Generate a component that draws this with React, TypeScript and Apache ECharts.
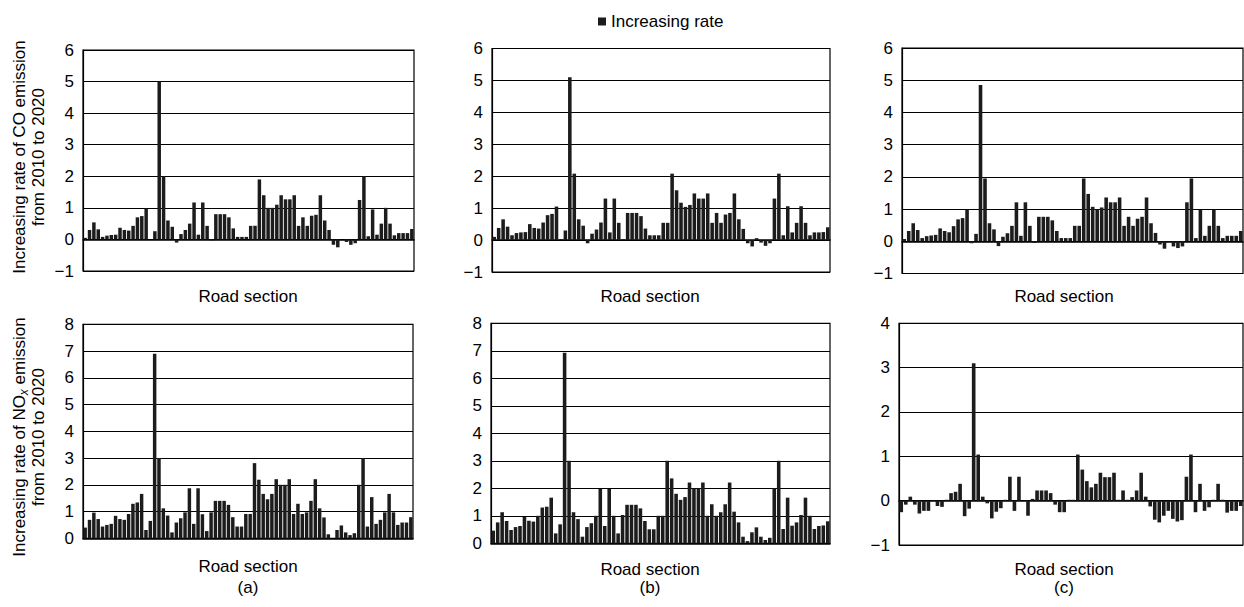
import React, { useEffect, useRef } from "react";
import * as echarts from "echarts";

const sections: string[] = Array.from({ length: 76 }, (_, i) => `S${i + 1}`);

const seriesName = "Increasing rate";

const coA: number[] = [
  0.05, 0.3, 0.54, 0.32, 0.08, 0.12, 0.14, 0.15, 0.37, 0.3, 0.28, 0.43, 0.7, 0.74, 0.98, 0, 0.26,
  5.0,
  2.0, 0.6, 0.4, -0.1, 0.17, 0.3, 0.5, 1.17, 0.15, 1.17, 0.43, -0.03, 0.8, 0.8, 0.8, 0.7, 0.35, 0.08, 0.08, 0.08, 0.43, 0.43,
  1.9,
  1.4, 1.0, 1.0, 1.1, 1.4, 1.27, 1.27, 1.4, 0.43, 0.7, 0.43, 0.75, 0.78, 1.4, 0.6, 0.3, -0.17, -0.25, 0, -0.08, -0.17, -0.12, 1.25,
  2.0,
  0.1, 0.95, 0.15, 0.5, 1.0, 0.5, 0.13, 0.2, 0.2, 0.2, 0.33,
];

const coB: number[] = [
  0.1, 0.38, 0.65, 0.42, 0.15, 0.22, 0.24, 0.25, 0.5, 0.38, 0.36, 0.55, 0.78, 0.82, 1.05, 0.03, 0.3,
  5.1,
  2.08, 0.65, 0.45, -0.1, 0.2, 0.33, 0.55, 1.3, 0.24, 1.3, 0.54, 0.03, 0.85, 0.85, 0.85, 0.75, 0.36, 0.15, 0.15, 0.15, 0.54, 0.54,
  2.08,
  1.56, 1.17, 1.04, 1.1, 1.46, 1.3, 1.3, 1.46, 0.54, 0.85, 0.54, 0.8, 0.85, 1.46, 0.65, 0.35, -0.1, -0.2, 0.06, -0.08, -0.18, -0.1, 1.3,
  2.08,
  0.15, 1.06, 0.24, 0.54, 1.06, 0.54, 0.15, 0.24, 0.24, 0.25, 0.4,
];

const coC: number[] = [
  0.07, 0.32, 0.56, 0.35, 0.1, 0.16, 0.18, 0.2, 0.4, 0.32, 0.28, 0.47, 0.68, 0.72, 0.98, -0.06, 0.23,
  4.85,
  1.95, 0.56, 0.37, -0.15, 0.14, 0.25, 0.48, 1.21, 0.17, 1.21, 0.48, -0.05, 0.76, 0.76, 0.76, 0.65, 0.32, 0.1, 0.1, 0.1, 0.48, 0.48,
  1.95,
  1.47, 1.07, 0.98, 1.05, 1.36, 1.21, 1.21, 1.36, 0.48, 0.76, 0.48, 0.7, 0.76, 1.36, 0.56, 0.26, -0.1, -0.23, -0.02, -0.16, -0.21, -0.16, 1.21,
  1.95,
  0.1, 0.98, 0.17, 0.48, 0.98, 0.48, 0.1, 0.17, 0.17, 0.17, 0.32,
];

const noxA: number[] = [
  0.4, 0.69, 0.96, 0.72, 0.44, 0.5, 0.54, 0.84, 0.72, 0.69, 0.91, 1.29, 1.34, 1.66, 0.31, 0.65,
  6.9,
  3.0, 1.12, 0.85, 0.22, 0.59, 0.75, 0.97, 1.87, 0.54, 1.87, 0.9, 0.27, 0.97, 1.4, 1.4, 1.4, 1.25, 0.79, 0.44, 0.44, 0.91, 0.91,
  2.81,
  2.19, 1.66, 1.46, 1.66, 2.21, 2.0, 2.0, 2.21, 0.91, 1.29, 0.91, 0.97, 1.4, 2.21, 1.12, 0.78, 0.15, 0.0, 0.31, 0.48, 0.22, 0.12, 0.19, 2.0,
  3.0,
  0.44, 1.54, 0.54, 0.69, 0.97, 1.66, 0.97, 0.5, 0.59, 0.59, 0.79,
];

const noxB: number[] = [
  0.46, 0.76, 1.13, 0.81, 0.48, 0.59, 0.63, 0.96, 0.82, 0.79, 1.0, 1.3, 1.33, 1.66, 0.36, 0.69,
  6.93,
  3.0, 1.13, 0.88, 0.24, 0.59, 0.73, 1.0, 1.98, 0.63, 1.98, 1.0, 0.36, 1.03, 1.4, 1.4, 1.4, 1.27, 0.81, 0.51, 0.51, 1.0, 1.0,
  3.0,
  2.36, 1.8, 1.58, 1.68, 2.21, 2.0, 2.0, 2.21, 1.0, 1.42, 1.0, 1.13, 1.42, 2.21, 1.15, 0.76, 0.24, 0.08, 0.4, 0.58, 0.24, 0.12, 0.2, 2.0,
  3.0,
  0.52, 1.66, 0.64, 0.76, 1.03, 1.66, 1.0, 0.52, 0.63, 0.65, 0.8,
];

const noxC: number[] = [
  -0.26, -0.09, 0.09, -0.09, -0.29, -0.23, -0.23, 0.01, -0.12, -0.14, 0.02, 0.17, 0.2, 0.38, -0.35, -0.18,
  3.1,
  1.04, 0.09, -0.06, -0.4, -0.25, -0.17, 0.02, 0.54, -0.23, 0.54, 0.0, -0.34, 0.04, 0.23, 0.23, 0.23, 0.17, -0.09, -0.26, -0.26, 0.02, 0.02,
  1.04,
  0.7, 0.44, 0.3, 0.38, 0.63, 0.53, 0.53, 0.63, 0.02, 0.23, 0.02, 0.08, 0.23, 0.63, 0.09, -0.13, -0.43, -0.49, -0.34, -0.23, -0.41, -0.47, -0.44, 0.54,
  1.04,
  -0.26, 0.38, -0.23, -0.15, 0.02, 0.38, 0.02, -0.27, -0.23, -0.23, -0.12,
];

const panelData: number[][] = [coA, coB, coC, noxA, noxB, noxC];
const yMins: number[] = [-1, -1, -1, 0, 0, -1];
const yMaxs: number[] = [6, 6, 6, 8, 8, 4];

const axisTitleCO: string[] = ["Increasing rate of CO emission", "from 2010 to 2020"];
const axisTitleNOx: string[] = ["Increasing rate of NO", "x", " emission", "from 2010 to 2020"];
const xAxisLabel = "Road section";
const panelLabels: string[] = ["(a)", "(b)", "(c)"];

const FONT = '"Liberation Sans", Arial, Helvetica, sans-serif';
const FS = 17;

// plot-area rectangles [left, top, width, height]
const gridRects: number[][] = [
  [83, 50, 331, 221],
  [492, 48.5, 338, 223.5],
  [902, 48, 341, 225.5],
  [83, 324.3, 330, 214],
  [491, 323.3, 339, 220],
  [899, 323.3, 344, 221.7],
];

export default function App() {
  const ref = useRef<HTMLDivElement>(null);

  useEffect(() => {
    if (!ref.current) return;
    const chart = echarts.init(ref.current, null, { renderer: "svg" });

    const grids = gridRects.map((r) => ({
      left: r[0],
      top: r[1],
      width: r[2],
      height: r[3],
      show: true,
      borderColor: "#000",
      borderWidth: 1.2,
      backgroundColor: "transparent",
    }));

    const xAxes = gridRects.map((_, i) => ({
      type: "category",
      gridIndex: i,
      data: sections,
      axisLine: { show: true, onZero: true, lineStyle: { color: "#000", width: 1.5 } },
      axisTick: { show: false },
      axisLabel: { show: false },
      splitLine: { show: false },
    }));

    const yAxes = gridRects.map((_, i) => ({
      type: "value",
      gridIndex: i,
      min: yMins[i],
      max: yMaxs[i],
      interval: 1,
      axisLine: { show: true, lineStyle: { color: "#000", width: 1.2 } },
      axisTick: { show: false },
      axisLabel: {
        color: "#000",
        fontSize: FS,
        fontFamily: FONT,
        margin: 9,
        formatter: (v: number) => String(v).replace("-", "\u2212"),
      },
      splitLine: { show: true, lineStyle: { color: "#000", width: 1.2 } },
    }));

    const series = panelData.map((d, i) => ({
      type: "bar",
      name: seriesName,
      xAxisIndex: i,
      yAxisIndex: i,
      data: d,
      barCategoryGap: "20%",
      itemStyle: { color: "#1c1c1c" },
      emphasis: { disabled: true },
    }));

    const txt = (x: number, y: number, text: string, rot = 0) => ({
      type: "text",
      x,
      y,
      rotation: rot,
      style: {
        text,
        fill: "#000",
        font: `${FS}px ${FONT}`,
        align: "center",
        verticalAlign: "middle",
      },
    });

    const xLabelCenters = [248, 650, 1064];
    const graphics: any[] = [];
    xLabelCenters.forEach((cx, j) => {
      graphics.push(txt(cx, 296, xAxisLabel));
      graphics.push(txt(cx, j === 0 ? 566 : 569, xAxisLabel));
      graphics.push(txt(cx, 587, panelLabels[j]));
    });
    graphics.push(txt(19, 157, axisTitleCO[0], Math.PI / 2));
    graphics.push(txt(38, 157, axisTitleCO[1], Math.PI / 2));
    graphics.push({
      type: "text",
      x: 19,
      y: 437,
      rotation: Math.PI / 2,
      style: {
        text: `{a|${axisTitleNOx[0]}}{s|${axisTitleNOx[1]}}{a|${axisTitleNOx[2]}}`,
        fill: "#000",
        align: "center",
        verticalAlign: "middle",
        rich: {
          a: { fontSize: FS, fontFamily: FONT, lineHeight: 22, verticalAlign: "middle" },
          s: { fontSize: 12, fontFamily: FONT, fontStyle: "italic", lineHeight: 12, verticalAlign: "bottom" },
        },
      },
    });
    graphics.push(txt(38, 437, axisTitleNOx[3], Math.PI / 2));

    chart.setOption({
      animation: false,
      backgroundColor: "#fff",
      textStyle: { fontFamily: FONT },
      legend: {
        data: [seriesName],
        left: 593,
        top: 8,
        icon: "rect",
        itemWidth: 8,
        itemHeight: 8,
        itemGap: 6,
        selectedMode: false,
        textStyle: { fontSize: FS, color: "#000", fontFamily: FONT },
      },
      grid: grids,
      xAxis: xAxes,
      yAxis: yAxes,
      series,
      graphic: graphics,
    });

    return () => chart.dispose();
  }, []);

  return <div ref={ref} style={{ width: 1244, height: 607, position: "absolute", left: 0, top: 0 }} />;
}
